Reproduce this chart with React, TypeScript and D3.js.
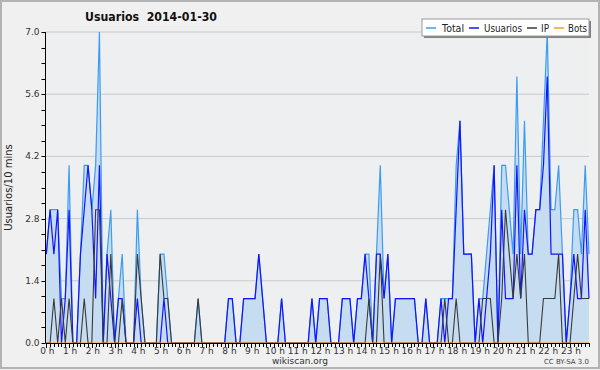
import React from "react";
import * as d3 from "d3";

// 10-minute slots, 0h00 .. 23h50 (144 points), one row per 4 hours
const usuarios = [
  2,3,2,3,0,1, 3,0,0,2,3,4, 3,1,4,0,2,1, 0,1,1,0,0,0,
  1,0,0,0,0,0, 0,1,0,0,0,0, 0,0,0,0,0,0, 0,0,0,0,0,0,
  1,1,0,0,1,1, 1,1,2,1,0,0, 0,0,1,0,0,0, 0,0,0,0,1,0,
  1,1,1,0,0,0, 1,1,1,0,1,1, 2,1,0,2,2,1, 2,0,1,1,1,1,
  1,1,0,0,1,0, 0,0,1,0,1,1, 3,5,2,2,2,0, 1,0,1,2,4,0,
  3,1,1,1,4,1, 3,2,2,3,3,4, 6,2,2,2,2,0, 1,2,1,1,3,1,
];
const ipValues = [
  0,0,1,0,1,0, 1,0,0,0,1,0, 0,3,3,0,0,2, 0,0,1,0,0,0,
  2,1,0,0,0,0, 2,1,1,0,0,0, 0,0,0,0,1,0, 0,0,0,0,0,0,
  0,0,0,0,0,0, 0,0,0,0,0,0, 0,0,0,0,0,0, 0,0,0,0,0,0,
  0,0,0,0,0,0, 0,0,0,0,0,0, 0,1,0,0,2,0, 0,0,0,0,0,0,
  0,0,0,0,0,0, 0,0,0,1,0,0, 1,0,0,0,0,0, 0,1,1,1,0,0,
  1,3,2,1,2,1, 2,0,0,0,0,1, 1,1,1,2,0,0, 0,1,2,1,1,1,
];
const totalValues = [
  2,3,3,3,1,1, 4,0,0,2,4,4, 3,4,7,0,2,3, 0,1,2,0,0,0,
  3,1,0,0,0,0, 2,2,1,0,0,0, 0,0,0,0,1,0, 0,0,0,0,0,0,
  1,1,0,0,1,1, 1,1,2,1,0,0, 0,0,1,0,0,0, 0,0,0,0,1,0,
  1,1,1,0,0,0, 1,1,1,0,1,1, 2,2,0,2,4,1, 2,0,1,1,1,1,
  1,1,0,0,1,0, 0,0,1,1,1,1, 4,5,2,2,2,0, 1,1,2,3,4,0,
  4,4,3,2,6,2, 5,2,2,3,3,5, 7,3,3,4,2,0, 1,3,3,2,4,2,
];
const botsValues = [
  0,0,0,0,0,0, 0,0,0,0,0,0, 0,0,0,0,0,0, 0,0,0,0,0,0,
  0,0,0,0,0,0, 0,0,0,0,0,0, 0,0,0,0,0,0, 0,0,0,0,0,0,
  0,0,0,0,0,0, 0,0,0,0,0,0, 0,0,0,0,0,0, 0,0,0,0,0,0,
  0,0,0,0,0,0, 0,0,0,0,0,0, 0,0,0,0,0,0, 0,0,0,0,0,0,
  0,0,0,0,0,0, 0,0,0,0,0,0, 0,0,0,0,0,0, 0,0,0,0,0,0,
  0,0,0,0,0,0, 0,0,0,0,0,0, 0,0,0,0,0,0, 0,0,0,0,0,0,
];
const yTicks = [0, 1.4, 2.8, 4.2, 5.6, 7.0];
const hourLabels = [
  "0 h","1 h","2 h","3 h","4 h","5 h","6 h","7 h","8 h","9 h","10 h","11 h",
  "12 h","13 h","14 h","15 h","16 h","17 h","18 h","19 h","20 h","21 h","22 h","23 h",
];
const legendNames = ["Total", "Usuarios", "IP", "Bots"];
const legendColors = ["#3d9cf2", "#1414ff", "#3a3a3a", "#ff9a1a"];

const W = 600;
const H = 370;
const left = 45.5;
const right = 589;
const top = 32;
const bottom = 343;

export default function App() {
  const n = totalValues.length;
  const x = d3.scaleLinear().domain([0, n - 1]).range([46.3, right]);
  const y = d3.scaleLinear().domain([0, 7]).range([bottom, top]);
  const line = d3
    .line<number>()
    .x((_, i) => x(i))
    .y((d) => y(d));
  const area = d3
    .area<number>()
    .x((_, i) => x(i))
    .y0(bottom)
    .y1((d) => y(d));
  const minorY = d3.range(0, 7.0001, 0.35);
  const font = "'DejaVu Sans', sans-serif";
  const legendPos = [
    { lx: 426, tx: 442, tw: 22 },
    { lx: 469, tx: 484, tw: 38 },
    { lx: 527, tx: 541, tw: 8 },
    { lx: 554, tx: 568, tw: 19 },
  ];

  return (
    <svg width={W} height={H} style={{ display: "block", position: "absolute", left: 0, top: 0 }}>
      <rect x={0} y={0} width={W} height={H} fill="#f0f0f0" />
      <rect x={1} y={1} width={W - 2} height={H - 3} fill="none" stroke="#b3b3b3" strokeWidth={2} />
      <rect x={left} y={top} width={right - left} height={bottom - top} fill="#edeff1" />
      {yTicks.slice(1).map((t) => (
        <line key={t} x1={left} x2={right} y1={y(t)} y2={y(t)} stroke="#cacaca" strokeWidth={1} />
      ))}
      <path d={area(totalValues) || ""} fill="#c6dcf0" />
      <path d={line(totalValues) || ""} fill="none" stroke={legendColors[0]} strokeWidth={1.2} />
      <path d={line(usuarios) || ""} fill="none" stroke={legendColors[1]} strokeWidth={1.2} />
      <path d={line(ipValues) || ""} fill="none" stroke={legendColors[2]} strokeWidth={1.1} />
      <path d={line(botsValues) || ""} fill="none" stroke={legendColors[3]} strokeWidth={1} />
      <line x1={left} x2={left} y1={top} y2={bottom} stroke="#000" strokeWidth={1} />
      <line x1={left} x2={right} y1={bottom + 0.5} y2={bottom + 0.5} stroke="#000" strokeWidth={1} />
      {minorY.map((t, i) => (
        <line key={i} x1={left - 4} x2={left} y1={Math.round(y(t)) + 0.5} y2={Math.round(y(t)) + 0.5} stroke="#000" strokeWidth={1} />
      ))}
      {yTicks.map((t) => (
        <text key={t} x={left - 6} y={y(t) + 3} fontSize={9} fontFamily={font} textAnchor="end" fill="#333">
          {t.toFixed(1)}
        </text>
      ))}
      {d3.range(n).map((i) => (
        <line key={i} x1={Math.round(x(i)) + 0.5} x2={Math.round(x(i)) + 0.5} y1={bottom} y2={bottom + (i % 6 === 0 ? 5 : 4)} stroke="#000" strokeWidth={1} />
      ))}
      {hourLabels.map((lab, h) => (
        <text key={lab} x={x(h * 6) + 1} y={354} fontSize={9} fontFamily={font} textAnchor="middle" fill="#333">
          {lab}
        </text>
      ))}
      <text x={300} y={364} fontSize={9} fontFamily={font} textAnchor="middle" fill="#333">
        wikiscan.org
      </text>
      <text x={589} y={364} fontSize={7} fontFamily={font} textAnchor="end" fill="#444">
        CC BY-SA 3.0
      </text>
      <text
        transform={`translate(12,${(top + bottom) / 2}) rotate(-90)`}
        fontSize={10}
        fontFamily={font}
        textAnchor="middle"
        fill="#222"
      >
        Usuarios/10 mins
      </text>
      <text x={85} y={21} fontSize={12} fontWeight="bold" fontFamily={font} fill="#111" style={{ whiteSpace: "pre" }} textLength={132} lengthAdjust="spacingAndGlyphs">
        {"Usuarios  2014-01-30"}
      </text>
      <rect x={424} y={21} width={167} height={17} fill="#808080" />
      <rect x={422} y={19} width={167} height={17} fill="#ffffff" stroke="#9a9a9a" strokeWidth={1} />
      {legendNames.map((name, k) => (
        <g key={name}>
          <line x1={legendPos[k].lx} x2={legendPos[k].lx + 10} y1={28} y2={28} stroke={legendColors[k]} strokeWidth={1.5} />
          <text x={legendPos[k].tx} y={31.5} fontSize={10} fontFamily={font} fill="#222" textLength={legendPos[k].tw} lengthAdjust="spacingAndGlyphs">
            {name}
          </text>
        </g>
      ))}
    </svg>
  );
}
